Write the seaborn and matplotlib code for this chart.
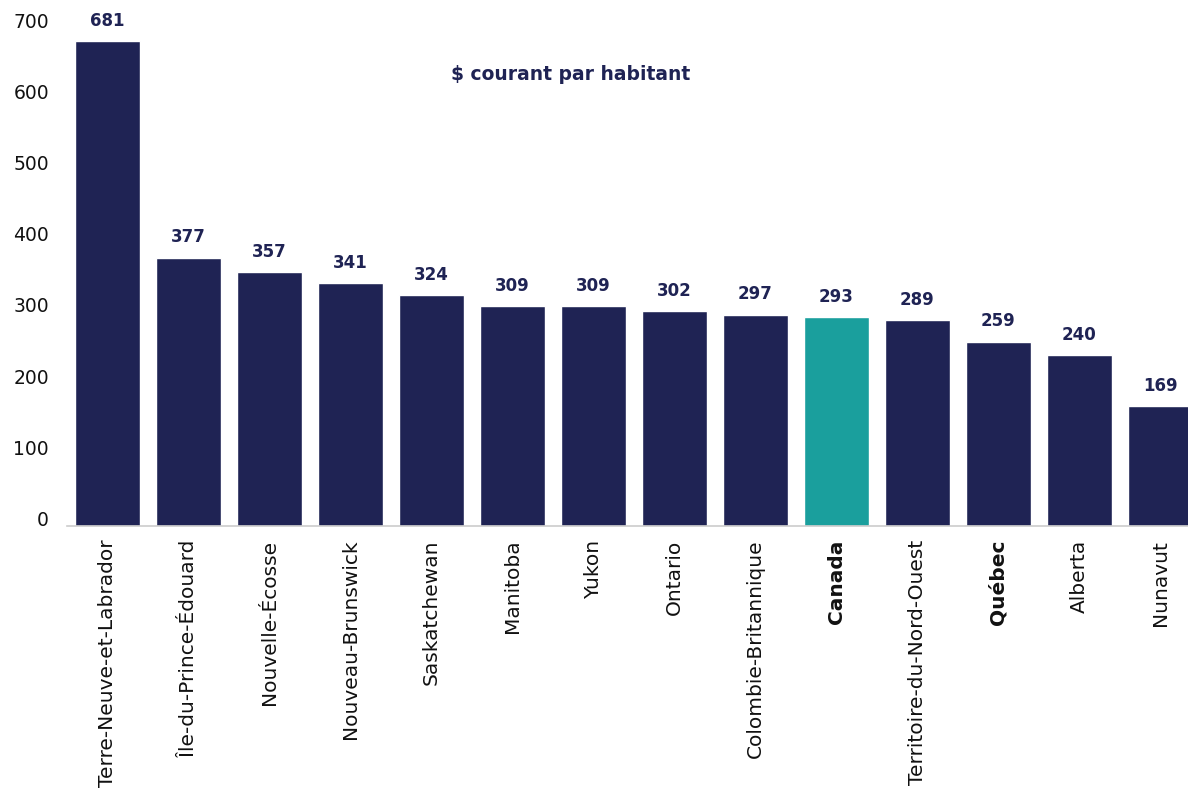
import matplotlib
matplotlib.use("Agg")
import matplotlib.pyplot as plt
import seaborn as sns
import pandas as pd

# Dépenses par habitant, en $ courants
regions = [
    "Terre-Neuve-et-Labrador", "Île-du-Prince-Édouard", "Nouvelle-Écosse",
    "Nouveau-Brunswick", "Saskatchewan", "Manitoba", "Yukon", "Ontario",
    "Colombie-Britannique", "Canada", "Territoire-du-Nord-Ouest", "Québec",
    "Alberta", "Nunavut",
]
values = [681, 377, 357, 341, 324, 309, 309, 302, 297, 293, 289, 259, 240, 169]
highlight = "Canada"
bold_labels = ["Canada", "Québec"]
yticks = [0, 100, 200, 300, 400, 500, 600, 700]
title_text = "$ courant par habitant"

NAVY = "#1f2354"
TEAL = "#1a9f9d"

sns.set_theme(style="white")
plt.rcParams["font.family"] = ["DejaVu Sans"]

df = pd.DataFrame({"region": regions, "value": values})
palette = {r: (TEAL if r == highlight else NAVY) for r in regions}

fig = plt.figure(figsize=(11.88, 7.98), dpi=100)
ax = fig.add_axes([0.0564, 0.3409, 0.9545, 0.6245])

sns.barplot(data=df, x="region", y="value", hue="region", palette=palette,
            order=regions, width=0.8, saturation=1, legend=False, ax=ax)

ax.set_xlim(-0.5, len(regions) - 0.5)
ax.set_ylim(0, 700)
ax.set_yticks(yticks)
ax.set_yticklabels([str(t) for t in yticks], fontsize=13.5, color="#111111",
                   va="baseline")
ax.set_xlabel("")
ax.set_ylabel("")

ax.set_xticks(range(len(regions)))
ax.set_xticklabels(regions, rotation=90, fontsize=14.5, color="#111111",
                   va="top", ha="center")
for lab in ax.get_xticklabels():
    if lab.get_text() in bold_labels:
        lab.set_fontweight("bold")

ax.tick_params(axis="both", length=0)
ax.tick_params(axis="x", pad=10)
ax.tick_params(axis="y", pad=13)

for side in ["top", "right", "left"]:
    ax.spines[side].set_visible(False)
ax.spines["bottom"].set_color("#cccccc")
ax.spines["bottom"].set_linewidth(1.2)

for patch, v in zip(ax.patches, values):
    ax.annotate(f"{v}", (patch.get_x() + patch.get_width() / 2, v),
                xytext=(0, 8), textcoords="offset points",
                ha="center", va="bottom", fontsize=12, fontweight="bold",
                color=NAVY)

fig.text(571 / 1188, 1 - 74 / 798, title_text, ha="center", va="center",
         fontsize=13.5, fontweight="bold", color=NAVY)

fig.savefig("out.png", dpi=100)
